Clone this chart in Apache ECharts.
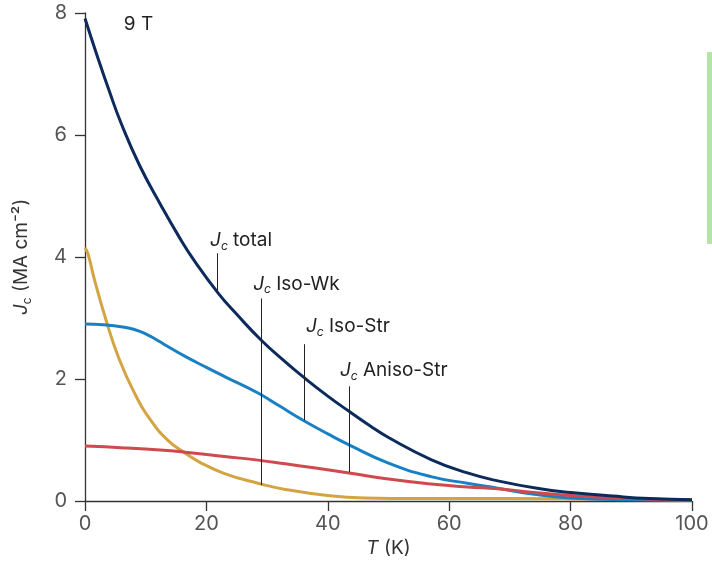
<!DOCTYPE html>
<html>
<head>
<meta charset="utf-8">
<script src="https://cdn.jsdelivr.net/npm/echarts@6/dist/echarts.min.js"></script>
<style>
  html, body { margin: 0; padding: 0; background: #fff; }
  #main { width: 712px; height: 566px; }
</style>
</head>
<body>
<div id="main"></div>
<script>
// values, T in K, Jc in MA cm^-2
var totalT = [0, 2, 4, 6, 9, 12.5, 15.5, 18, 22, 25, 29, 33, 36, 40, 43.5, 47, 50, 57, 63, 68, 75, 80, 87, 93, 100];
var totalJ = [7.91, 7.3, 6.72, 6.18, 5.5, 4.85, 4.33, 3.94, 3.4, 3.06, 2.64, 2.28, 2.03, 1.72, 1.47, 1.23, 1.04, 0.68, 0.46, 0.33, 0.2, 0.14, 0.08, 0.04, 0.02];

var isoStrT = [0, 3, 6.5, 8.5, 10, 11.5, 13, 16.5, 20, 23, 28.5, 32, 36, 40, 43.5, 50, 57, 63, 68, 74, 80, 90, 100];
var isoStrJ = [2.9, 2.89, 2.85, 2.8, 2.74, 2.66, 2.57, 2.37, 2.19, 2.04, 1.77, 1.56, 1.32, 1.1, 0.92, 0.62, 0.4, 0.29, 0.21, 0.11, 0.05, 0.02, 0.01];

var anisoT = [0, 6.5, 13, 16.5, 23, 28.5, 33, 38, 43.5, 50, 57, 63, 68, 74, 80, 90, 100];
var anisoJ = [0.9, 0.87, 0.83, 0.8, 0.73, 0.67, 0.61, 0.54, 0.46, 0.36, 0.28, 0.23, 0.2, 0.14, 0.09, 0.04, 0.01];

var isoWkT = [0, 0.5, 1.5, 3.3, 5.5, 8.2, 11, 13.7, 16, 19, 23, 28.5, 33, 40, 46, 55, 70, 85, 100];
var isoWkJ = [4.15, 4.05, 3.65, 3.02, 2.36, 1.76, 1.3, 0.99, 0.82, 0.63, 0.45, 0.29, 0.19, 0.09, 0.05, 0.04, 0.04, 0.03, 0.02];

var xTicks = [0, 20, 40, 60, 80, 100];
var yTicks = [0, 2, 4, 6, 8];

// leader labels: line at T from curve value up to top value, text anchored at (textT, textJ)
var labelNames = ['total', 'Iso-Wk', 'Iso-Str', 'Aniso-Str'];
var lineT = [21.8, 29.0, 36.1, 43.5];
var lineBottom = [3.42, 0.26, 1.32, 0.47];
var lineTop = [4.06, 3.32, 2.57, 1.88];
var textT = [20.6, 27.7, 36.4, 42.0];
var textJ = [4.28, 3.56, 2.86, 2.14];

function pairs(xs, ys) {
  return xs.map(function (x, i) { return [x, ys[i]]; });
}

var font = 'Inter, "Noto Sans", sans-serif';
var chart = echarts.init(document.getElementById('main'));

function curve(name, xs, ys, color) {
  return {
    name: name,
    type: 'line',
    data: pairs(xs, ys),
    smooth: 0.5,
    smoothConstraint: false,
    showSymbol: false,
    silent: true,
    lineStyle: { color: color, width: 3 }
  };
}

chart.setOption({
  animation: false,
  grid: { left: 85, right: 20, top: 13, bottom: 65, outerBoundsMode: 'none' },
  xAxis: {
    type: 'value',
    min: 0, max: 100, interval: 20,
    name: '{i|T} (K)',
    nameLocation: 'middle',
    nameGap: 38,
    nameTextStyle: {
      color: '#333', fontFamily: font, fontSize: 19,
      rich: { i: { fontStyle: 'italic', fontFamily: font, fontSize: 19, color: '#333' } }
    },
    axisLine: { lineStyle: { color: '#333', width: 1.3 } },
    axisTick: { inside: false, length: 10, lineStyle: { color: '#333', width: 1.3 } },
    axisLabel: {
      margin: 13, color: '#555', fontFamily: font, fontSize: 20,
      formatter: function (v) { return xTicks.indexOf(v) >= 0 ? String(v) : ''; }
    },
    splitLine: { show: false }
  },
  yAxis: {
    type: 'value',
    min: 0, max: 8, interval: 2,
    name: '{j|J}{c|c} (MA cm⁻²)',
    nameLocation: 'middle',
    nameGap: 52,
    nameRotate: 90,
    nameTextStyle: {
      color: '#333', fontFamily: font, fontSize: 19,
      rich: {
        j: { fontStyle: 'italic', fontFamily: font, fontSize: 19, color: '#333', lineHeight: 24 },
        c: { fontFamily: font, fontSize: 12, color: '#333', verticalAlign: 'bottom', lineHeight: 14 }
      }
    },
    axisLine: { show: true, lineStyle: { color: '#333', width: 1.3 } },
    axisTick: { show: true, inside: false, length: 10, lineStyle: { color: '#333', width: 1.3 } },
    axisLabel: {
      margin: 18, color: '#555', fontFamily: font, fontSize: 20,
      formatter: function (v) { return yTicks.indexOf(v) >= 0 ? String(v) : ''; }
    },
    splitLine: { show: false }
  },
  series: [
    curve('Iso-Wk', isoWkT, isoWkJ, '#d4a443'),
    curve('Iso-Str', isoStrT, isoStrJ, '#1a80c4'),
    curve('Aniso-Str', anisoT, anisoJ, '#cf4a4f'),
    curve('total', totalT, totalJ, '#0c2a5c')
  ]
});

// annotations placed through the grid's own coordinate system
var richLabel = {
  j: { fontStyle: 'italic', fontFamily: font, fontSize: 19, fill: '#222', lineHeight: 24 },
  c: { fontStyle: 'italic', fontFamily: font, fontSize: 12, fill: '#222', verticalAlign: 'bottom', lineHeight: 14 },
  t: { fontFamily: font, fontSize: 19, fill: '#222', lineHeight: 24 }
};

var graphics = [];
labelNames.forEach(function (name, i) {
  var p0 = chart.convertToPixel({ gridIndex: 0 }, [lineT[i], lineBottom[i]]);
  var p1 = chart.convertToPixel({ gridIndex: 0 }, [lineT[i], lineTop[i]]);
  graphics.push({
    type: 'line', silent: true, z: 100,
    shape: { x1: Math.round(p0[0]) + 0.5, y1: p0[1], x2: Math.round(p1[0]) + 0.5, y2: p1[1] },
    style: { stroke: '#222', lineWidth: 1 }
  });
  var pt = chart.convertToPixel({ gridIndex: 0 }, [textT[i], textJ[i]]);
  graphics.push({
    type: 'text', silent: true, z: 100,
    x: pt[0], y: pt[1],
    style: {
      text: '{j|J}{c|c}{t| ' + name + '}',
      rich: richLabel,
      align: 'left', verticalAlign: 'middle'
    }
  });
});

var fieldPos = chart.convertToPixel({ gridIndex: 0 }, [6.4, 7.82]);
graphics.push({
  type: 'text', silent: true, z: 100,
  x: fieldPos[0], y: fieldPos[1],
  style: { text: '9 T', fontFamily: font, fontSize: 19, fill: '#222', align: 'left', verticalAlign: 'middle' }
});

// green marker bar at the right edge of the figure
graphics.push({
  type: 'rect', silent: true,
  shape: { x: 707, y: 52, width: 5, height: 192 },
  style: { fill: '#b5e3a5' }
});

chart.setOption({ graphic: graphics });
</script>
</body>
</html>
